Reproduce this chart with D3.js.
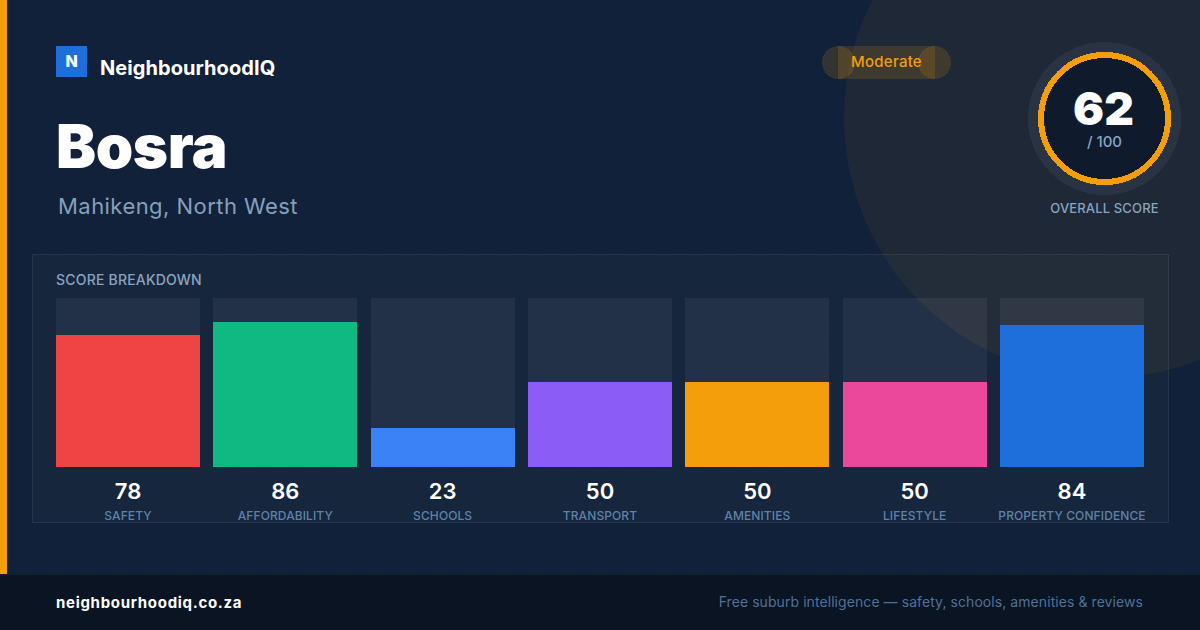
<!DOCTYPE html>
<html>
<head>
<meta charset="utf-8">
<script src="https://cdn.jsdelivr.net/npm/d3@7"></script>
<style>
  html, body { margin: 0; padding: 0; background: #112038; overflow: hidden; }
  svg { display: block; font-family: Inter, "Noto Sans", sans-serif; }
</style>
</head>
<body>
<svg id="chart"></svg>
<script>
const categories = ["SAFETY", "AFFORDABILITY", "SCHOOLS", "TRANSPORT", "AMENITIES", "LIFESTYLE", "PROPERTY CONFIDENCE"];
const scores = [78, 86, 23, 50, 50, 50, 84];
const barColors = ["#ef4444", "#10b981", "#3b82f6", "#8b5cf6", "#f59e0b", "#ec4899", "#1d6fdc"];

const suburb = "Bosra";
const region = "Mahikeng, North West";
const overallScore = 62;
const band = "Moderate";

const width = 1200;
const height = 630;
const amber = "#f59e0b";

const svg = d3.select("#chart").attr("width", width).attr("height", height);

// Background and the faint dot grid
const defs = svg.append("defs");
const dots = defs.append("pattern")
  .attr("id", "dots")
  .attr("width", 32)
  .attr("height", 32)
  .attr("patternUnits", "userSpaceOnUse");
dots.append("rect")
  .attr("x", 23)
  .attr("y", 23)
  .attr("width", 2)
  .attr("height", 2)
  .attr("fill", "#fff")
  .attr("opacity", 0.03);

svg.append("rect").attr("width", width).attr("height", height).attr("fill", "#112139");
svg.append("rect").attr("width", width).attr("height", height).attr("fill", "url(#dots)");

// Big tinted circle behind the score
svg.append("circle")
  .attr("cx", 1104)
  .attr("cy", 118)
  .attr("r", 260)
  .attr("fill", amber)
  .attr("opacity", 0.06);

// Amber strip on the left
svg.append("rect").attr("width", 7).attr("height", 574).attr("fill", amber);

// Logo
svg.append("rect")
  .attr("x", 56)
  .attr("y", 46)
  .attr("width", 31)
  .attr("height", 31)
  .attr("fill", "#1d6fdc");
svg.append("text")
  .attr("x", 71.5)
  .attr("y", 67)
  .attr("text-anchor", "middle")
  .attr("fill", "#fff")
  .attr("font-size", 16)
  .attr("font-weight", 800)
  .text("N");
svg.append("text")
  .attr("x", 100)
  .attr("y", 75)
  .attr("fill", "#fff")
  .attr("font-size", 20)
  .attr("font-weight", 700)
  .attr("letter-spacing", 0.07)
  .text("NeighbourhoodIQ");

// Title
svg.append("text")
  .attr("x", 56)
  .attr("y", 168)
  .attr("fill", "#fff")
  .attr("font-size", 60)
  .attr("font-weight", 900)
  .attr("letter-spacing", -0.4)
  .text(suburb);
svg.append("text")
  .attr("x", 58)
  .attr("y", 214)
  .attr("fill", "#86a0bc")
  .attr("font-size", 22)
  .attr("letter-spacing", 0.45)
  .text(region);

// Band pill, built from a rect and two end circles that overlap
const pill = svg.append("g")
  .attr("fill", amber)
  .attr("fill-opacity", 0.15)
  .attr("shape-rendering", "crispEdges");
pill.append("rect").attr("x", 838).attr("y", 46).attr("width", 97).attr("height", 33);
pill.append("circle").attr("cx", 838.5).attr("cy", 62.5).attr("r", 16.5);
pill.append("circle").attr("cx", 934.5).attr("cy", 62.5).attr("r", 16.5);
svg.append("text")
  .attr("x", 886.5)
  .attr("y", 67)
  .attr("text-anchor", "middle")
  .attr("fill", amber)
  .attr("font-size", 15)
  .attr("font-weight", 500)
  .attr("letter-spacing", 0.25)
  .text(band);

// Score ring
svg.append("circle")
  .attr("cx", 1104.5)
  .attr("cy", 118.5)
  .attr("r", 76.5)
  .attr("fill", "#2a3344")
  .attr("shape-rendering", "crispEdges");
svg.append("circle")
  .attr("cx", 1104.5)
  .attr("cy", 118.5)
  .attr("r", 63.5)
  .attr("fill", "#0f1b2d")
  .attr("stroke", amber)
  .attr("stroke-width", 6)
  .attr("shape-rendering", "crispEdges");
svg.append("text")
  .attr("x", 1103.5)
  .attr("y", 125)
  .attr("text-anchor", "middle")
  .attr("fill", "#fff")
  .attr("font-size", 46)
  .attr("font-weight", 900)
  .text(overallScore);
svg.append("text")
  .attr("x", 1104.5)
  .attr("y", 147)
  .attr("text-anchor", "middle")
  .attr("fill", "#8aa4c0")
  .attr("font-size", 15)
  .attr("font-weight", 500)
  .text("/ 100");
svg.append("text")
  .attr("x", 1104.5)
  .attr("y", 213)
  .attr("text-anchor", "middle")
  .attr("fill", "#8aa4c0")
  .attr("font-size", 13)
  .attr("font-weight", 500)
  .attr("letter-spacing", 0.15)
  .text("OVERALL SCORE");

// Breakdown panel
svg.append("rect")
  .attr("x", 32.5)
  .attr("y", 254.5)
  .attr("width", 1136)
  .attr("height", 268)
  .attr("fill", "#fff")
  .attr("fill-opacity", 0.025)
  .attr("stroke", "#fff")
  .attr("stroke-opacity", 0.08);
svg.append("text")
  .attr("x", 56)
  .attr("y", 285)
  .attr("fill", "#8aa4c0")
  .attr("font-size", 14)
  .attr("font-weight", 500)
  .attr("letter-spacing", 0.2)
  .text("SCORE BREAKDOWN");

// Bars
const x = d3.scaleBand()
  .domain(categories)
  .range([56, 1144])
  .paddingInner(0.0847);
// Top end nudged so the crisp edges land on the same pixels as the reference
const y = d3.scaleLinear().domain([0, 100]).range([467, 297.85]);

const rows = categories.map((name, i) => ({ name, score: scores[i], color: barColors[i] }));
const bar = svg.selectAll("g.bar")
  .data(rows)
  .join("g")
  .attr("class", "bar");

bar.append("rect")
  .attr("x", d => x(d.name))
  .attr("y", y(100))
  .attr("width", x.bandwidth())
  .attr("height", y(0) - y(100))
  .attr("fill", "#fff")
  .attr("fill-opacity", 0.055)
  .attr("shape-rendering", "crispEdges");
bar.append("rect")
  .attr("x", d => x(d.name))
  .attr("y", d => y(d.score))
  .attr("width", x.bandwidth())
  .attr("height", d => y(0) - y(d.score))
  .attr("fill", d => d.color)
  .attr("shape-rendering", "crispEdges");
bar.append("text")
  .attr("x", d => x(d.name) + x.bandwidth() / 2)
  .attr("y", 499)
  .attr("text-anchor", "middle")
  .attr("fill", "#fff")
  .attr("font-size", 22)
  .attr("font-weight", 600)
  .text(d => d.score);
bar.append("text")
  .attr("x", d => x(d.name) + x.bandwidth() / 2)
  .attr("y", 520)
  .attr("text-anchor", "middle")
  .attr("fill", "#5f82a8")
  .attr("font-size", 12)
  .attr("font-weight", 500)
  .attr("letter-spacing", 0.1)
  .text(d => d.name);

// Footer
svg.append("rect").attr("y", 574).attr("width", width).attr("height", 56).attr("fill", "#0a1422");
svg.append("rect").attr("y", 574).attr("width", width).attr("height", 1).attr("fill", "#16212f");
svg.append("text")
  .attr("x", 56)
  .attr("y", 608)
  .attr("fill", "#fff")
  .attr("font-size", 15)
  .attr("font-weight", 700)
  .attr("letter-spacing", 0.7)
  .text("neighbourhoodiq.co.za");
svg.append("text")
  .attr("x", 1143)
  .attr("y", 607)
  .attr("text-anchor", "end")
  .attr("fill", "#4f7299")
  .attr("font-size", 14)
  .attr("letter-spacing", 0.07)
  .text("Free suburb intelligence — safety, schools, amenities & reviews");
</script>
</body>
</html>
